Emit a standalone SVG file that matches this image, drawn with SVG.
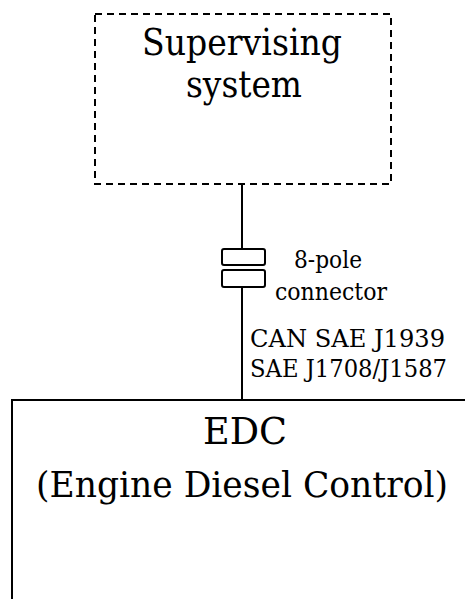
<svg xmlns="http://www.w3.org/2000/svg" width="465" height="599" viewBox="0 0 465 599">
<style>
text{font-family:'DejaVu Serif','Liberation Serif','Times New Roman',serif;fill:#000}
.big{font-size:38px}
.lab{font-size:24px}
.ln{stroke:#000;stroke-width:2;fill:none}
</style>
<rect width="465" height="599" fill="#fff"/>
<g id="supervising">
<rect x="95" y="14" width="296" height="170" fill="none" stroke="#000" stroke-width="2" stroke-dasharray="7,5"/>
<text class="big" x="142" y="55" textLength="200" lengthAdjust="spacingAndGlyphs">Supervising</text>
<text class="big" x="186" y="97" textLength="116" lengthAdjust="spacingAndGlyphs">system</text>
</g>
<g id="connector">
<rect x="222" y="249" width="43" height="16" rx="2" class="ln"/>
<rect x="222" y="270" width="43" height="17" rx="2" class="ln"/>
<text class="lab" x="294" y="268" textLength="68" lengthAdjust="spacingAndGlyphs">8-pole</text>
<text class="lab" x="275" y="300" textLength="112" lengthAdjust="spacingAndGlyphs">connector</text>
</g>
<g id="connectors">
<line x1="242" y1="184" x2="242" y2="249" class="ln"/>
<line x1="242" y1="287" x2="242" y2="400" class="ln"/>
<text class="lab" x="250" y="347" textLength="195" lengthAdjust="spacingAndGlyphs">CAN SAE J1939</text>
<text class="lab" x="250" y="377" textLength="197" lengthAdjust="spacingAndGlyphs">SAE J1708/J1587</text>
</g>
<g id="edc">
<path d="M12,599 V400 H465" class="ln"/>
<text class="big" x="203" y="444" textLength="84" lengthAdjust="spacingAndGlyphs">EDC</text>
<text x="36" y="497" font-size="35" textLength="412" lengthAdjust="spacingAndGlyphs">(Engine Diesel Control)</text>
</g>
</svg>
